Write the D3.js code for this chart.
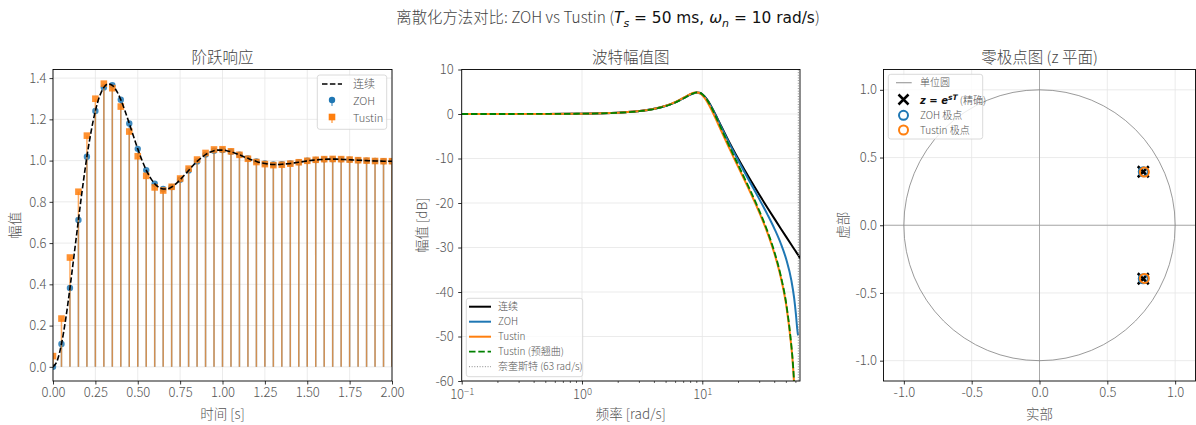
<!DOCTYPE html>
<html>
<head>
<meta charset="utf-8">
<script src="https://cdn.jsdelivr.net/npm/d3@7"></script>
<style>
  html, body { margin: 0; padding: 0; background: #fff; }
  svg text { font-family: 'Noto Sans CJK SC', 'Noto Sans', sans-serif; font-weight: 300; }
</style>
</head>
<body>
<svg id="fig" width="1196" height="425"></svg>
<script>
// ---------------- data ----------------
// sampled step responses, Ts = 0.05 s
const sampleTimes = [0.00,0.05,0.10,0.15,0.20,0.25,0.30,0.35,0.40,0.45,0.50,0.55,0.60,0.65,0.70,0.75,0.80,0.85,0.90,0.95,
  1.00,1.05,1.10,1.15,1.20,1.25,1.30,1.35,1.40,1.45,1.50,1.55,1.60,1.65,1.70,1.75,1.80,1.85,1.90,1.95,2.00];
const zohStep = [0.000,0.111,0.382,0.712,1.019,1.241,1.355,1.365,1.295,1.180,1.057,0.954,0.888,0.862,0.872,0.907,0.952,0.996,1.029,1.048,
  1.051,1.043,1.028,1.011,0.996,0.986,0.981,0.982,0.986,0.992,0.999,1.003,1.006,1.007,1.006,1.004,1.002,1.000,0.998,0.997,0.997];
const tustinStep = [0.052,0.234,0.530,0.849,1.121,1.300,1.373,1.351,1.262,1.141,1.021,0.926,0.870,0.855,0.873,0.913,0.961,1.005,1.037,1.054,
  1.055,1.045,1.028,1.009,0.993,0.983,0.978,0.980,0.985,0.992,0.999,1.004,1.007,1.008,1.007,1.005,1.002,1.000,0.998,0.997,0.997];

// continuous step response
const contTimes = [0.000,0.025,0.050,0.075,0.100,0.125,0.150,0.175,0.200,0.225,0.250,0.275,0.300,0.325,0.350,0.375,0.400,0.425,0.450,0.475,
  0.500,0.525,0.550,0.575,0.600,0.625,0.650,0.675,0.700,0.725,0.750,0.775,0.800,0.825,0.850,0.875,0.900,0.925,0.950,0.975,
  1.000,1.025,1.050,1.075,1.100,1.125,1.150,1.175,1.200,1.225,1.250,1.275,1.300,1.325,1.350,1.375,1.400,1.425,1.450,1.475,
  1.500,1.525,1.550,1.575,1.600,1.625,1.650,1.675,1.700,1.725,1.750,1.775,1.800,1.825,1.850,1.875,1.900,1.925,1.950,1.975,2.000];
const contStep = [0.000,0.030,0.111,0.232,0.382,0.546,0.712,0.873,1.019,1.142,1.241,1.312,1.355,1.372,1.365,1.338,1.295,1.240,1.180,1.118,
  1.057,1.002,0.954,0.916,0.888,0.870,0.862,0.863,0.872,0.887,0.907,0.929,0.952,0.975,0.996,1.014,1.029,1.040,1.048,1.051,
  1.051,1.048,1.043,1.036,1.028,1.019,1.011,1.003,0.996,0.990,0.986,0.983,0.981,0.981,0.982,0.984,0.986,0.989,0.992,0.995,
  0.999,1.001,1.003,1.005,1.006,1.007,1.007,1.007,1.006,1.005,1.004,1.003,1.002,1.001,1.000,0.999,0.998,0.998,0.997,0.997,0.997];

// Bode magnitude [dB]
const contFreqs = [0.1,0.2,0.5,1,2,3,4,5,6,7,8,8.5,9,9.5,10,11,12,13,14,16,18,20,25,30,35,40,45,50,55,58,60,61.5,62.3,62.83,64.9];
const contDb = [0.001,0.003,0.018,0.071,0.287,0.653,1.174,1.854,2.683,3.600,4.437,4.722,4.845,4.757,4.437,3.190,1.475,-0.352,-2.114,-5.257,
  -7.913,-10.187,-14.744,-18.276,-21.172,-23.632,-25.773,-27.672,-29.377,-30.324,-30.927,-31.366,-31.595,-31.746,-32.450];
const zohFreqs = [0.1,0.2,0.5,1,2,3,4,5,6,7,8,8.5,9,9.5,10,11,12,13,14,16,18,20,25,30,35,40,45,50,55,58,60,61.5,62.3,62.83];
const zohDb = [0.001,0.003,0.018,0.071,0.284,0.645,1.160,1.833,2.652,3.558,4.381,4.659,4.774,4.677,4.348,3.081,1.343,-0.508,-2.297,-5.500,
  -8.225,-10.581,-15.400,-19.302,-22.717,-25.919,-29.154,-32.751,-37.381,-41.340,-44.971,-48.159,-49.446,-49.740];
const tustinFreqs = [0.1,0.2,0.5,1,2,3,4,5,6,7,8,8.5,9,9.5,10,11,12,13,14,16,18,20,25,30,35,40,45,50,55,56,57,58,59];
const tustinDb = [0.001,0.003,0.018,0.071,0.288,0.655,1.182,1.874,2.723,3.666,4.510,4.772,4.842,4.667,4.232,2.723,0.793,-1.208,-3.115,-6.522,
  -9.453,-12.033,-17.527,-22.331,-26.885,-31.594,-36.797,-43.173,-52.355,-54.600,-57.400,-60.710,-64.770];
const prewarpDb = [0.001,0.003,0.017,0.068,0.276,0.628,1.132,1.795,2.611,3.530,4.394,4.700,4.843,4.765,4.437,3.107,1.267,-0.706,-2.612,-6.043,
  -8.998,-11.597,-17.122,-21.941,-26.504,-31.218,-36.426,-42.804,-51.988,-54.232,-57.031,-60.341,-64.400];
const nyquistFreq = 62.83;

// z-plane poles
const exactRe = [0.765, 0.765],  exactIm = [0.395, -0.395];
const zohRe = [0.765, 0.765],    zohIm = [0.395, -0.395];
const tustinRe = [0.773, 0.773], tustinIm = [0.393, -0.393];

// tick values
const stepXTicks = [0,0.25,0.5,0.75,1,1.25,1.5,1.75,2];
const stepYTicks = [0,0.2,0.4,0.6,0.8,1.0,1.2,1.4];
const bodeXTicks = [0.1,1,10];
const bodeXExps = ["\u22121","0","1"];
const bodeYTicks = [10,0,-10,-20,-30,-40,-50,-60];
const pzTicks = [-1,-0.5,0,0.5,1];

// ---------------- drawing ----------------
const C0 = "#1f77b4", C1 = "#ff7f0e", GREEN = "#008000";
const TXT = "#555", GRID = "#e6e6e6";
const MATH = "'DejaVu Sans', sans-serif";
const svg = d3.select("#fig");
const fmt = d3.formatLocale({decimal: ".", thousands: ",", grouping: [3], currency: ["", ""], minus: "-"}).format;

function panel(id, xs, ys) {
  const [x0, x1] = xs.range(), [y1, y0] = ys.range();
  svg.append("clipPath").attr("id", id).append("rect")
    .attr("x", x0).attr("y", y0).attr("width", x1 - x0).attr("height", y1 - y0);
  const grid = svg.append("g");
  const body = svg.append("g").attr("clip-path", `url(#${id})`);
  const top = svg.append("g");
  return {x0, x1, y0, y1, grid, body, top};
}

function gridLines(p, xs, ys, xt, yt) {
  p.grid.selectAll(null).data(xt).join("line")
    .attr("x1", d => xs(d)).attr("x2", d => xs(d)).attr("y1", p.y0).attr("y2", p.y1)
    .attr("stroke", GRID).attr("stroke-width", 0.8);
  p.grid.selectAll(null).data(yt).join("line")
    .attr("y1", d => ys(d)).attr("y2", d => ys(d)).attr("x1", p.x0).attr("x2", p.x1)
    .attr("stroke", GRID).attr("stroke-width", 0.8);
}

function frame(p, xs, ys, xt, yt, xfmt, yfmt, xpad, ypad) {
  const ax = p.top.append("g").attr("transform", `translate(0,${p.y1})`)
    .call(d3.axisBottom(xs).tickValues(xt).tickSize(3.5).tickPadding(xpad || 3).tickFormat(xfmt));
  const ay = p.top.append("g").attr("transform", `translate(${p.x0},0)`)
    .call(d3.axisLeft(ys).tickValues(yt).tickSize(3.5).tickPadding(ypad || 3).tickFormat(yfmt));
  [ax, ay].forEach(a => {
    a.select(".domain").remove();
    a.selectAll(".tick line").attr("stroke", "#000").attr("stroke-width", 0.8);
    a.selectAll(".tick text").attr("fill", TXT).attr("font-size", 13)
      .style("font-family", "'Noto Sans CJK SC', sans-serif").style("font-weight", 300);
  });
  p.top.append("rect").attr("x", p.x0).attr("y", p.y0)
    .attr("width", p.x1 - p.x0).attr("height", p.y1 - p.y0)
    .attr("fill", "none").attr("stroke", "#000").attr("stroke-width", 0.9);
  return {ax, ay};
}

function labels(p, title, xl, yl, yx) {
  const cx = (p.x0 + p.x1) / 2;
  svg.append("text").attr("x", cx).attr("y", 63).attr("text-anchor", "middle")
    .attr("font-size", 15.5).attr("fill", "#444").text(title);
  svg.append("text").attr("x", cx).attr("y", 419).attr("text-anchor", "middle")
    .attr("font-size", 13.5).attr("fill", TXT).text(xl);
  svg.append("text").attr("transform", `translate(${yx},${(p.y0 + p.y1) / 2}) rotate(-90)`)
    .attr("text-anchor", "middle").attr("font-size", 13.5).attr("fill", TXT).text(yl);
}

function legendBox(x, y, w, h) {
  svg.append("rect").attr("x", x).attr("y", y).attr("width", w).attr("height", h)
    .attr("rx", 2.5).attr("fill", "#fff").attr("fill-opacity", 0.8)
    .attr("stroke", "#d0d0d0").attr("stroke-width", 0.8);
}
function legendText(x, y, s, size) {
  return svg.append("text").attr("x", x).attr("y", y).attr("dy", "0.35em")
    .attr("font-size", size).attr("fill", TXT).text(s);
}

// ---- suptitle ----
{
  const t = svg.append("text").attr("x", 608).attr("y", 23).attr("text-anchor", "middle")
    .attr("font-size", 15.4).attr("fill", "#444");
  t.append("tspan").text("离散化方法对比: ZOH vs Tustin (");
  const m = (s, it, dy, fs) => t.append("tspan").text(s)
    .style("font-family", MATH).style("font-weight", 400).style("font-style", it ? "italic" : "normal")
    .attr("fill", "#111").attr("dy", dy || 0).attr("font-size", fs || 15.4);
  m("T", true); m("s", true, 3.5, 11); m(" = 50 ms, ", false, -3.5);
  m("\u03c9", true); m("n", true, 3.5, 11); m(" = 10 rad/s", false, -3.5);
  t.append("tspan").text(")");
}

// ---- panel 1: step response ----
{
  const xs = d3.scaleLinear([0, 2], [53, 392]);
  const ys = d3.scaleLinear([-0.0687, 1.4417], [381, 69.5]);
  const p = panel("clip1", xs, ys);
  gridLines(p, xs, ys, stepXTicks, stepYTicks);

  const zoh = sampleTimes.map((t, i) => [t, zohStep[i]]);
  const tus = sampleTimes.map((t, i) => [t, tustinStep[i]]);

  p.body.selectAll(null).data(zoh).join("line")
    .attr("x1", d => xs(d[0])).attr("x2", d => xs(d[0]))
    .attr("y1", ys(0)).attr("y2", d => ys(d[1]))
    .attr("stroke", C0).attr("stroke-width", 1.5).attr("stroke-opacity", 0.6);
  p.body.selectAll(null).data(zoh).join("circle")
    .attr("cx", d => xs(d[0])).attr("cy", d => ys(d[1])).attr("r", 3.2)
    .attr("fill", C0).attr("fill-opacity", 0.85);
  p.body.selectAll(null).data(tus).join("line")
    .attr("x1", d => xs(d[0])).attr("x2", d => xs(d[0]))
    .attr("y1", ys(0)).attr("y2", d => ys(d[1]))
    .attr("stroke", C1).attr("stroke-width", 1.5).attr("stroke-opacity", 0.65);
  p.body.selectAll(null).data(tus).join("rect")
    .attr("x", d => xs(d[0]) - 3.3).attr("y", d => ys(d[1]) - 3.3)
    .attr("width", 6.6).attr("height", 6.6)
    .attr("fill", C1).attr("fill-opacity", 0.85);

  const line = d3.line().x(d => xs(d[0])).y(d => ys(d[1])).curve(d3.curveMonotoneX);
  p.body.append("path").datum(contTimes.map((t, i) => [t, contStep[i]]))
    .attr("d", line).attr("fill", "none").attr("stroke", "#000")
    .attr("stroke-width", 1.6).attr("stroke-dasharray", "5.5,2.4");

  frame(p, xs, ys, stepXTicks, stepYTicks, fmt(".2f"), fmt(".1f"));
  labels(p, "阶跃响应", "时间 [s]", "幅值", 20);

  // legend
  legendBox(317.3, 75, 69.4, 54.3);
  svg.append("line").attr("x1", 322).attr("x2", 342).attr("y1", 84).attr("y2", 84)
    .attr("stroke", "#000").attr("stroke-width", 1.6).attr("stroke-dasharray", "5.5,2.4");
  legendText(353, 84, "连续", 11);
  svg.append("line").attr("x1", 332).attr("x2", 332).attr("y1", 101).attr("y2", 106)
    .attr("stroke", C0).attr("stroke-width", 1.5).attr("stroke-opacity", 0.6);
  svg.append("circle").attr("cx", 332).attr("cy", 100).attr("r", 3.2).attr("fill", C0);
  legendText(353, 101, "ZOH", 11);
  svg.append("line").attr("x1", 332).attr("x2", 332).attr("y1", 118).attr("y2", 123)
    .attr("stroke", C1).attr("stroke-width", 1.5).attr("stroke-opacity", 0.65);
  svg.append("rect").attr("x", 328.7).attr("y", 113.7).attr("width", 6.6).attr("height", 6.6).attr("fill", C1);
  legendText(353, 118, "Tustin", 11);
}

// ---- panel 2: Bode magnitude ----
{
  const xs = d3.scaleLog([0.1, 64.9], [461.7, 800]);
  const ys = d3.scaleLinear([-60, 10], [381, 69.5]);
  const p = panel("clip2", xs, ys);
  gridLines(p, xs, ys, bodeXTicks, bodeYTicks);

  const line = d3.line().x(d => xs(d[0])).y(d => ys(d[1])).curve(d3.curveMonotoneX);
  const series = [
    {f: contFreqs, v: contDb, c: "#000", w: 2, dash: null},
    {f: zohFreqs, v: zohDb, c: C0, w: 2, dash: null},
    {f: tustinFreqs, v: tustinDb, c: C1, w: 2, dash: null},
    {f: tustinFreqs, v: prewarpDb, c: GREEN, w: 1.8, dash: "6.5,2.8"}
  ];
  series.forEach(s => {
    p.body.append("path").datum(s.f.map((f, i) => [f, s.v[i]]))
      .attr("d", line).attr("fill", "none").attr("stroke", s.c)
      .attr("stroke-width", s.w).attr("stroke-dasharray", s.dash);
  });
  p.body.append("line").attr("x1", xs(nyquistFreq)).attr("x2", xs(nyquistFreq))
    .attr("y1", p.y0).attr("y2", p.y1)
    .attr("stroke", "#888").attr("stroke-width", 1).attr("stroke-dasharray", "1,1.65");

  const {ax} = frame(p, xs, ys, bodeXTicks, bodeYTicks, () => "", fmt("d"), 5.5, 4.5);
  ax.selectAll(".tick text").each(function(d, i) {
    const t = d3.select(this);
    t.append("tspan").text("10");
    t.append("tspan").text(bodeXExps[i]).attr("font-size", 9.5).attr("dy", -4.5);
  });
  // minor ticks
  const minor = [];
  [0.1, 1, 10].forEach(dec => { for (let k = 2; k <= 9; k++) if (dec * k <= 64.9) minor.push(dec * k); });
  p.top.selectAll(null).data(minor).join("line")
    .attr("x1", d => xs(d)).attr("x2", d => xs(d)).attr("y1", p.y1).attr("y2", p.y1 + 2)
    .attr("stroke", "#000").attr("stroke-width", 0.6);

  labels(p, "波特幅值图", "频率 [rad/s]", "幅值 [dB]", 427);

  // legend
  legendBox(466.3, 298.3, 116.4, 78.4);
  const items = [
    {c: "#000", w: 2, dash: null, s: "连续"},
    {c: C0, w: 2, dash: null, s: "ZOH"},
    {c: C1, w: 2, dash: null, s: "Tustin"},
    {c: GREEN, w: 1.8, dash: "6.5,2.8", s: "Tustin (预翘曲)"},
    {c: "#888", w: 1, dash: "1,1.65", s: "奈奎斯特 (63 rad/s)"}
  ];
  items.forEach((it, i) => {
    const y = 306.7 + i * 15;
    svg.append("line").attr("x1", 469).attr("x2", 491).attr("y1", y).attr("y2", y)
      .attr("stroke", it.c).attr("stroke-width", it.w).attr("stroke-dasharray", it.dash);
    legendText(498, y, it.s, 10);
  });
}

// ---- panel 3: pole-zero map ----
{
  const xs = d3.scaleLinear([-1.15, 1.15], [883.5, 1195.5]);
  const ys = d3.scaleLinear([-1.15, 1.15], [381, 69.5]);
  const p = panel("clip3", xs, ys);
  gridLines(p, xs, ys, pzTicks, pzTicks);

  p.body.append("line").attr("x1", p.x0).attr("x2", p.x1).attr("y1", ys(0)).attr("y2", ys(0))
    .attr("stroke", "#999").attr("stroke-width", 0.8);
  p.body.append("line").attr("y1", p.y0).attr("y2", p.y1).attr("x1", xs(0)).attr("x2", xs(0))
    .attr("stroke", "#999").attr("stroke-width", 0.8);
  p.body.append("ellipse").attr("cx", xs(0)).attr("cy", ys(0))
    .attr("rx", xs(1) - xs(0)).attr("ry", ys(0) - ys(1))
    .attr("fill", "none").attr("stroke", "#808080").attr("stroke-width", 0.8);

  const xMark = (g, cx, cy, h, w) => g.append("path")
    .attr("d", `M${cx - h},${cy - h}L${cx + h},${cy + h}M${cx - h},${cy + h}L${cx + h},${cy - h}`)
    .attr("stroke", "#000").attr("stroke-width", w).attr("fill", "none");
  exactRe.forEach((re, i) => xMark(p.body, xs(re), ys(exactIm[i]), 5.5, 2.5));
  zohRe.forEach((re, i) => p.body.append("circle").attr("cx", xs(re)).attr("cy", ys(zohIm[i]))
    .attr("r", 4.5).attr("fill", "none").attr("stroke", C0).attr("stroke-width", 2));
  tustinRe.forEach((re, i) => p.body.append("circle").attr("cx", xs(re)).attr("cy", ys(tustinIm[i]))
    .attr("r", 4.5).attr("fill", "none").attr("stroke", C1).attr("stroke-width", 2));

  frame(p, xs, ys, pzTicks, pzTicks, fmt(".1f"), fmt(".1f"));
  labels(p, "零极点图 (z 平面)", "实部", "虚部", 847.5);

  // legend
  legendBox(888.3, 74.3, 94.4, 64.7);
  svg.append("line").attr("x1", 896).attr("x2", 911.7).attr("y1", 82.7).attr("y2", 82.7)
    .attr("stroke", "#a0a0a0").attr("stroke-width", 1.2);
  legendText(920, 82.7, "单位圆", 10);
  xMark(svg, 903.5, 99.5, 5, 2.5);
  const t = svg.append("text").attr("x", 920).attr("y", 103.5).attr("font-size", 10).attr("fill", TXT);
  const mm = (s, it, dy, fs) => t.append("tspan").text(s).style("font-family", MATH)
    .style("font-style", it ? "italic" : "normal").style("font-weight", 700)
    .attr("fill", "#111").attr("dy", dy || 0).attr("font-size", fs || 10);
  mm("z", true); mm(" = ", false); mm("e", true); mm("sT", true, -4, 7.5);
  t.append("tspan").text(" (精确)").attr("dy", 4);
  svg.append("circle").attr("cx", 903.5).attr("cy", 115.3).attr("r", 4.5)
    .attr("fill", "none").attr("stroke", C0).attr("stroke-width", 2);
  legendText(920, 115.3, "ZOH 极点", 10);
  svg.append("circle").attr("cx", 903.5).attr("cy", 130).attr("r", 4.5)
    .attr("fill", "none").attr("stroke", C1).attr("stroke-width", 2);
  legendText(920, 130, "Tustin 极点", 10);
}
</script>
</body>
</html>
